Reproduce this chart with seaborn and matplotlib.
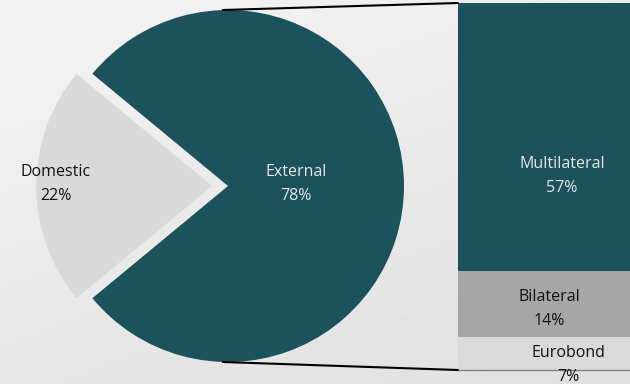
"""Debt composition: pie of bar"""
import numpy as np
import seaborn as sns
import matplotlib.pyplot as plt
from matplotlib.patches import ConnectionPatch

# data
pie_labels = ["Domestic", "External"]
pie_values = [22, 78]
pie_colors = ["#d9d9d9", "#1b525c"]

bar_labels = ["Multilateral", "Bilateral", "Eurobond"]
bar_values = [57, 14, 7]
bar_colors = ["#1b525c", "#a6a6a6", "#dadada"]

sns.set_theme(style="white")
plt.rcParams["font.family"] = ["Open Sans", "DejaVu Sans"]

W, H = 630, 384
fig = plt.figure(figsize=(W / 100, H / 100), dpi=100)

# background gradient
bg = fig.add_axes([0, 0, 1, 1], zorder=-10)
yy, xx = np.mgrid[0:1:200j, 0:1:300j]
shade = 0.955 - 0.05 * yy - 0.03 * xx
bg.imshow(shade, cmap="gray", vmin=0, vmax=1, aspect="auto", extent=(0, 1, 0, 1))
bg.axis("off")

# pie, in units of the pie radius
cx, cy, r = 228, 198, 176
ax = fig.add_axes([0, 0, 1, 1])
start = 180 - pie_values[0] / sum(pie_values) * 360 / 2
ax.pie(pie_values, colors=pie_colors, startangle=start, explode=[0.09, 0],
       radius=1, center=(0, 0), wedgeprops=dict(linewidth=0))
ax.set_aspect("auto")
ax.set_xlim(-cx / r, (W - cx) / r)
ax.set_ylim(-cy / r, (H - cy) / r)
ax.axis("off")
ax.text(-0.98, 0.01, f"{pie_labels[0]}\n{pie_values[0]}%", ha="center", va="center",
        fontsize=11.5, color="#111111", linespacing=1.65)
ax.text(0.386, 0.01, f"{pie_labels[1]}\n{pie_values[1]}%", ha="center", va="center",
        fontsize=11.5, color="#e6e6e6", linespacing=1.65)

# stacked bar of the external share
bx = fig.add_axes([458 / W, 14 / H, 172 / W, 367 / H])
cum = np.cumsum(bar_values[::-1])[::-1]
for val, col in zip(cum, bar_colors):
    sns.barplot(x=["External"], y=[val], color=col, saturation=1, width=1,
                linewidth=0, ax=bx)
bx.set_xlim(-0.5, 0.5)
bx.set_ylim(0, sum(bar_values))
bx.axis("off")
bx.axhline(0, color="#808080", lw=1, xmin=0, xmax=1, clip_on=False)

label_x = [0.605, 0.53, 0.64]
label_y = [41.2, 13.0, 1.0]
label_c = ["#e6e6e6", "#111111", "#111111"]
for name, val, lx, ly, lc in zip(bar_labels, bar_values, label_x, label_y, label_c):
    bx.text(lx, ly, f"{name}\n{val}%", transform=bx.get_yaxis_transform(),
            ha="center", va="center", fontsize=11.5, color=lc, linespacing=1.65,
            clip_on=False)

# connector lines
for py, by in [(1, sum(bar_values)), (-1, 0)]:
    con = ConnectionPatch(xyA=(-0.03, py), coordsA=ax.transData,
                          xyB=(-0.5, by), coordsB=bx.transData,
                          color="black", lw=1.5)
    fig.add_artist(con)

fig.savefig("out.png", dpi=100)
